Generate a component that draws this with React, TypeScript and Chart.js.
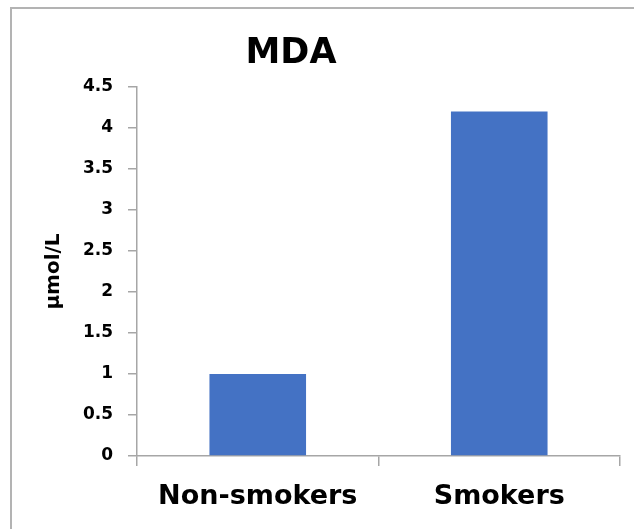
import React, { useEffect, useRef } from "react";
import { Chart, registerables } from "chart.js";

Chart.register(...registerables);

const categories = ["Non-smokers", "Smokers"];
const mdaValues = [1.0, 4.2];
const chartTitle = "MDA";
const yAxisTitle = "μmol/L";
const yMin = 0;
const yMax = 4.5;
const yStep = 0.5;

const FONT = "'DejaVu Sans', sans-serif";
const AXIS_COLOR = "#a6a6a6";

export default function App() {
  const canvasRef = useRef<HTMLCanvasElement | null>(null);

  useEffect(() => {
    const canvas = canvasRef.current;
    if (!canvas) return;
    const chart = new Chart(canvas, {
      type: "bar",
      data: {
        labels: categories,
        datasets: [
          {
            label: chartTitle,
            data: mdaValues,
            backgroundColor: "#4472C4",
            borderWidth: 0,
            barPercentage: 0.4,
            categoryPercentage: 1.0,
          },
        ],
      },
      options: {
        animation: false,
        responsive: false,
        devicePixelRatio: 1,
        layout: { padding: { top: 87, right: 14, bottom: 0, left: 10 } },
        plugins: {
          legend: { display: false },
          title: { display: false },
          tooltip: { enabled: false },
        },
        scales: {
          x: {
            offset: true,
            grid: {
              display: true,
              drawOnChartArea: false,
              drawTicks: true,
              tickLength: 10,
              color: AXIS_COLOR,
              lineWidth: 1.5,
              offset: true,
            },
            border: { display: true, color: AXIS_COLOR, width: 1.5 },
            ticks: {
              color: "#000",
              padding: 15,
              font: { family: FONT, size: 27, weight: "bold" },
              maxRotation: 0,
            },
            afterFit: (axis: any) => {
              axis.height = 73;
            },
          },
          y: {
            min: yMin,
            max: yMax,
            grid: {
              display: true,
              drawOnChartArea: false,
              drawTicks: true,
              tickLength: 9,
              color: AXIS_COLOR,
              lineWidth: 1.5,
            },
            border: { display: true, color: AXIS_COLOR, width: 1.5 },
            ticks: {
              stepSize: yStep,
              color: "#000",
              padding: 15,
              font: { family: FONT, size: 17, weight: "bold" },
              callback: (value: any) => String(Number(value)),
            },
            title: {
              display: true,
              text: yAxisTitle,
              color: "#000",
              font: { family: FONT, size: 20, weight: "bold" },
              padding: { top: 32, bottom: 0 },
            },
            afterFit: (axis: any) => {
              axis.width = 127;
            },
          },
        },
      },
    });
    return () => chart.destroy();
  }, []);

  return (
    <div
      style={{
        position: "absolute",
        left: 0,
        top: 0,
        width: 634,
        height: 529,
        overflow: "hidden",
        background: "#fff",
      }}
    >
      <div
        style={{
          position: "absolute",
          left: 10,
          top: 7,
          width: 624,
          height: 2,
          background: "#b3b3b3",
        }}
      />
      <div
        style={{
          position: "absolute",
          left: 10,
          top: 7,
          width: 2,
          height: 522,
          background: "#b3b3b3",
        }}
      />
      <canvas
        ref={canvasRef}
        width={634}
        height={529}
        style={{ position: "absolute", left: 0, top: 0, width: 634, height: 529 }}
      />
      <div
        style={{
          position: "absolute",
          left: 191,
          top: 34,
          width: 200,
          textAlign: "center",
          fontFamily: FONT,
          fontWeight: "bold",
          fontSize: 35,
          lineHeight: "35px",
          color: "#000",
        }}
      >
        {chartTitle}
      </div>
    </div>
  );
}
